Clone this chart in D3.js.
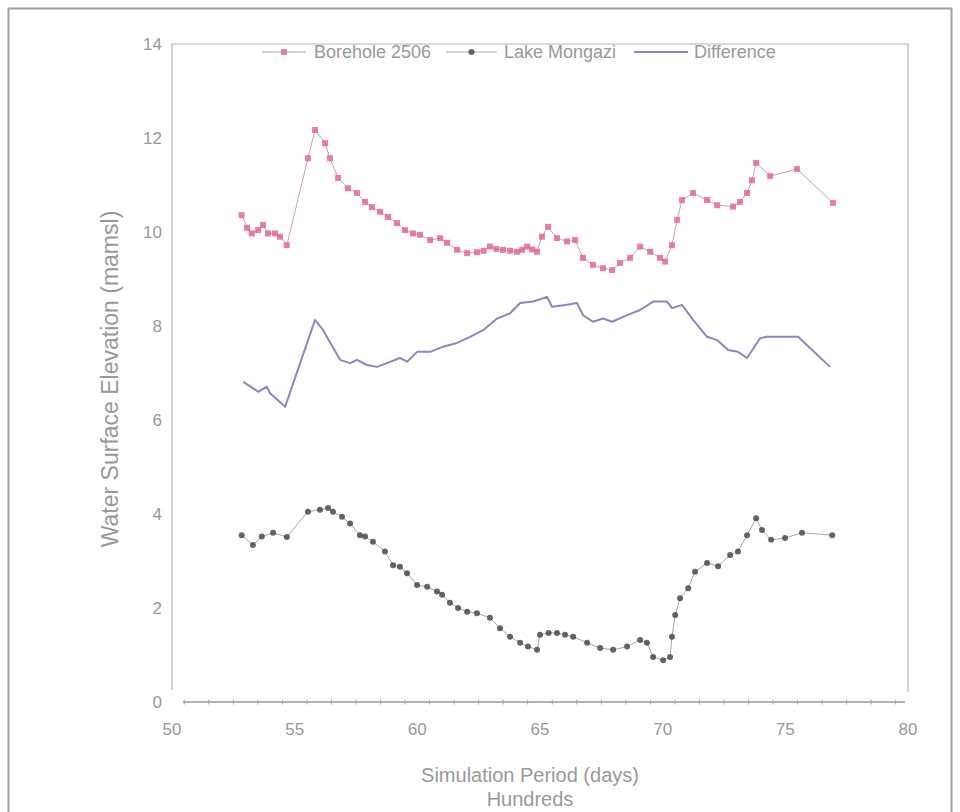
<!DOCTYPE html>
<html>
<head>
<meta charset="utf-8">
<script src="https://cdn.jsdelivr.net/npm/d3@7"></script>
<style>
  html, body { margin: 0; padding: 0; background: #ffffff; }
  svg { display: block; }
  text { font-family: "Liberation Sans", Arial, sans-serif; fill: #999999; }
</style>
</head>
<body>
<svg id="chart" width="960" height="812"></svg>
<script>
// Simulation day and water surface elevation (m amsl) for each series
const boreholeDays = [5284, 5306, 5325, 5351, 5371, 5391, 5420, 5440, 5468, 5554, 5583, 5624, 5644, 5677, 5717, 5754, 5787, 5815, 5848, 5881, 5917, 5950, 5982, 6011, 6052, 6093, 6121, 6162, 6203, 6243, 6270, 6296, 6322, 6349, 6378, 6406, 6427, 6447, 6468, 6488, 6508, 6533, 6569, 6610, 6643, 6675, 6716, 6757, 6794, 6826, 6867, 6908, 6949, 6989, 7010, 7038, 7059, 7079, 7124, 7181, 7222, 7287, 7315, 7344, 7364, 7381, 7438, 7548, 7694];
const boreholeLevels = [10.36, 10.09, 9.97, 10.04, 10.15, 9.97, 9.97, 9.9, 9.72, 11.57, 12.17, 11.89, 11.57, 11.15, 10.93, 10.83, 10.64, 10.53, 10.43, 10.32, 10.19, 10.04, 9.97, 9.94, 9.83, 9.87, 9.77, 9.62, 9.55, 9.57, 9.6, 9.69, 9.64, 9.62, 9.6, 9.58, 9.62, 9.69, 9.63, 9.58, 9.9, 10.11, 9.87, 9.8, 9.83, 9.45, 9.3, 9.23, 9.19, 9.34, 9.45, 9.69, 9.58, 9.45, 9.37, 9.72, 10.26, 10.68, 10.83, 10.68, 10.57, 10.54, 10.64, 10.83, 11.1, 11.47, 11.19, 11.34, 10.62];

const lakeDays = [5284, 5330, 5366, 5412, 5468, 5554, 5603, 5636, 5656, 5693, 5726, 5766, 5787, 5819, 5868, 5901, 5929, 5958, 5999, 6040, 6080, 6101, 6133, 6166, 6203, 6243, 6296, 6337, 6378, 6419, 6451, 6488, 6500, 6535, 6569, 6602, 6635, 6692, 6745, 6798, 6855, 6908, 6936, 6961, 7002, 7030, 7038, 7051, 7071, 7104, 7132, 7181, 7226, 7275, 7307, 7344, 7381, 7405, 7442, 7499, 7568, 7691];
const lakeLevels = [3.55, 3.34, 3.52, 3.6, 3.51, 4.05, 4.09, 4.13, 4.05, 3.94, 3.8, 3.55, 3.52, 3.41, 3.2, 2.91, 2.88, 2.74, 2.49, 2.45, 2.35, 2.28, 2.11, 2.0, 1.92, 1.89, 1.79, 1.57, 1.39, 1.26, 1.18, 1.11, 1.43, 1.47, 1.47, 1.43, 1.39, 1.26, 1.15, 1.11, 1.18, 1.32, 1.26, 0.96, 0.89, 0.96, 1.39, 1.85, 2.21, 2.42, 2.77, 2.96, 2.89, 3.13, 3.2, 3.55, 3.91, 3.66, 3.45, 3.49, 3.6, 3.55];

const differenceDays = [5291, 5352, 5386, 5400, 5461, 5583, 5616, 5685, 5726, 5754, 5795, 5836, 5876, 5929, 5958, 5999, 6052, 6105, 6162, 6215, 6268, 6325, 6378, 6419, 6472, 6529, 6549, 6610, 6651, 6675, 6716, 6757, 6794, 6855, 6908, 6961, 7018, 7038, 7079, 7124, 7181, 7222, 7267, 7307, 7344, 7397, 7426, 7552, 7682];
const differenceLevels = [6.81, 6.6, 6.71, 6.57, 6.28, 8.13, 7.91, 7.28, 7.21, 7.28, 7.17, 7.13, 7.21, 7.32, 7.24, 7.45, 7.45, 7.56, 7.64, 7.77, 7.91, 8.16, 8.27, 8.49, 8.52, 8.62, 8.41, 8.45, 8.49, 8.23, 8.09, 8.16, 8.09, 8.23, 8.34, 8.52, 8.52, 8.38, 8.45, 8.13, 7.77, 7.7, 7.49, 7.45, 7.32, 7.74, 7.77, 7.77, 7.13];

const xTicks = [5000, 5500, 6000, 6500, 7000, 7500, 8000];
const yTicks = [0, 2, 4, 6, 8, 10, 12, 14];
const seriesNames = ["Borehole 2506", "Lake Mongazi", "Difference"];

const colors = { borehole: "#e0628d", lake: "#404040", diff: "#9184c4", axis: "#b8b8b8", frame: "#a0a0a0" };

const svg = d3.select("#chart");

const x = d3.scaleLinear().domain([5000, 8000]).range([172, 908]);
const y = d3.scaleLinear().domain([0, 14]).range([702, 44]);

// outer chart frame
svg.append("rect")
  .attr("x", 8.5).attr("y", 8.5).attr("width", 943).attr("height", 812)
  .attr("fill", "none").attr("stroke", colors.frame).attr("stroke-width", 2);

// plot area border (left, top, right)
const g = svg.append("g");
g.append("path")
  .attr("d", `M${x(5000)},${y(0) - 12}V${y(14)}H${x(8000)}V${y(0) - 10}`)
  .attr("fill", "none").attr("stroke", colors.axis).attr("stroke-width", 1.2);

// horizontal axis at zero with minor ticks
g.append("line")
  .attr("x1", x(5000) + 11).attr("x2", x(8000) - 3)
  .attr("y1", y(0)).attr("y2", y(0))
  .attr("stroke", "#999999").attr("stroke-width", 1.3);
g.selectAll(".minor")
  .data(d3.range(5050, 8000, 100))
  .join("line")
  .attr("x1", d => x(d)).attr("x2", d => x(d))
  .attr("y1", y(0) - 2.5).attr("y2", y(0) + 2.5)
  .attr("stroke", "#a8a8a8").attr("stroke-width", 1);

// tick labels
g.selectAll(".ylab")
  .data(yTicks)
  .join("text")
  .attr("x", 162).attr("y", d => y(d))
  .attr("dy", "0.35em").attr("text-anchor", "end")
  .attr("font-size", 17)
  .text(d => d);

g.selectAll(".xlab")
  .data(xTicks)
  .join("text")
  .attr("x", d => x(d)).attr("y", 729)
  .attr("dy", "0.35em").attr("text-anchor", "middle")
  .attr("font-size", 17)
  .text(d => d / 100);

// axis titles
svg.append("text")
  .attr("transform", `translate(110,${(y(0) + y(14)) / 2 + 6}) rotate(-90)`)
  .attr("text-anchor", "middle").attr("dy", "0.35em")
  .attr("font-size", 23)
  .text("Water Surface Elevation (mamsl)");
svg.append("text")
  .attr("x", 530).attr("y", 775).attr("dy", "0.35em")
  .attr("text-anchor", "middle").attr("font-size", 20)
  .text("Simulation Period (days)");
svg.append("text")
  .attr("x", 530).attr("y", 799).attr("dy", "0.35em")
  .attr("text-anchor", "middle").attr("font-size", 20)
  .text("Hundreds");

// series
const line = d3.line().x(d => x(d[0])).y(d => y(d[1]));
const borehole = d3.zip(boreholeDays, boreholeLevels);
const lake = d3.zip(lakeDays, lakeLevels);
const diff = d3.zip(differenceDays, differenceLevels);

g.append("path").datum(diff).attr("d", line)
  .attr("fill", "none").attr("stroke", colors.diff).attr("stroke-width", 2)
  .attr("stroke-linejoin", "round");

g.append("path").datum(borehole).attr("d", line)
  .attr("fill", "none").attr("stroke", "#c8a3b0").attr("stroke-width", 1);
g.selectAll(".bh").data(borehole).join("rect")
  .attr("x", d => x(d[0]) - 3).attr("y", d => y(d[1]) - 3)
  .attr("width", 6).attr("height", 6)
  .attr("fill", colors.borehole).attr("opacity", 0.8);

g.append("path").datum(lake).attr("d", line)
  .attr("fill", "none").attr("stroke", "#b3a3a6").attr("stroke-width", 1);
g.selectAll(".lk").data(lake).join("circle")
  .attr("cx", d => x(d[0])).attr("cy", d => y(d[1]))
  .attr("r", 3)
  .attr("fill", colors.lake).attr("opacity", 0.8);

// legend
const legend = svg.append("g").attr("transform", "translate(0,52)");
const legendItems = [
  { name: seriesNames[0], x0: 262, x1: 306, tx: 314, color: colors.borehole, marker: "rect" },
  { name: seriesNames[1], x0: 446, x1: 497, tx: 504, color: colors.lake, marker: "circle" },
  { name: seriesNames[2], x0: 634, x1: 688, tx: 694, color: colors.diff, marker: null }
];
legendItems.forEach(it => {
  legend.append("line")
    .attr("x1", it.x0).attr("x2", it.x1).attr("y1", 0).attr("y2", 0)
    .attr("stroke", it.marker ? "#aaaaaa" : it.color)
    .attr("stroke-width", it.marker ? 1 : 2);
  const mx = (it.x0 + it.x1) / 2;
  if (it.marker === "rect") {
    legend.append("rect").attr("x", mx - 3).attr("y", -3).attr("width", 6).attr("height", 6).attr("fill", it.color).attr("opacity", 0.8);
  } else if (it.marker === "circle") {
    legend.append("circle").attr("cx", mx).attr("cy", 0).attr("r", 3).attr("fill", it.color).attr("opacity", 0.8);
  }
  legend.append("text")
    .attr("x", it.tx).attr("y", 0).attr("dy", "0.35em")
    .attr("font-size", 18)
    .text(it.name);
});
</script>
</body>
</html>
